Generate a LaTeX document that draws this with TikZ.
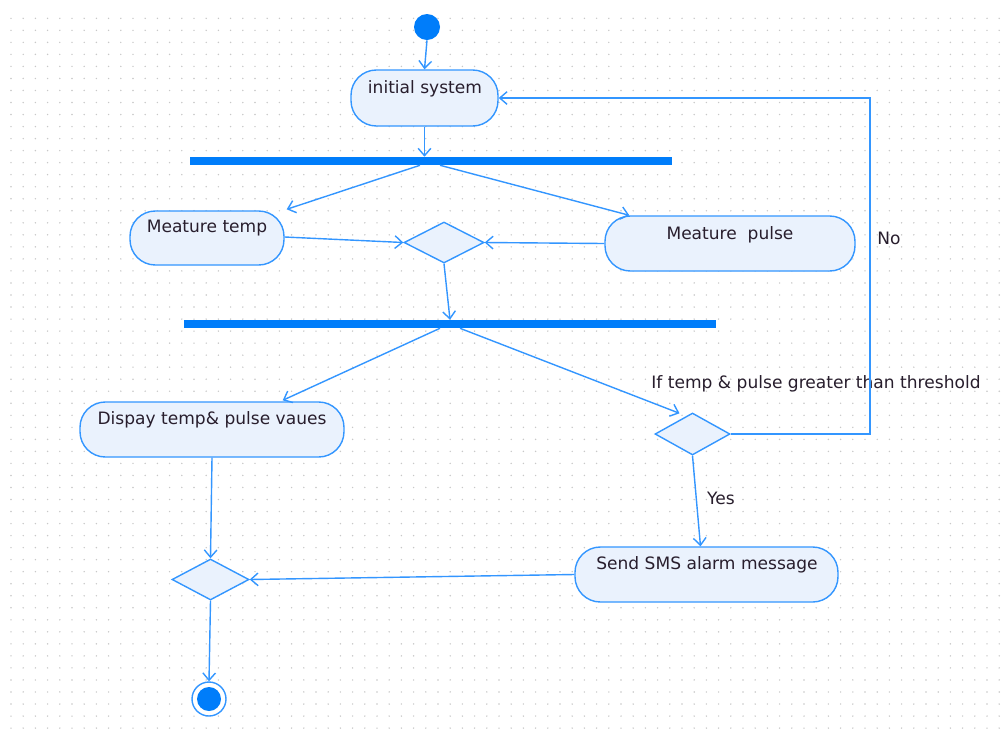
\documentclass[tikz,border=0pt]{standalone}
\usepackage{fontspec}
\setmainfont{DejaVu Sans}
\usetikzlibrary{shapes.geometric,arrows.meta}
\definecolor{uline}{RGB}{51,150,255}
\definecolor{ufill}{RGB}{234,242,253}
\definecolor{ubar}{RGB}{0,125,250}
\definecolor{utext}{RGB}{40,30,45}
\definecolor{udot}{RGB}{200,200,200}
\begin{document}
\begin{tikzpicture}[x=0.75pt,y=-0.75pt,
  activity/.style={draw=uline, fill=ufill, line width=1.05pt, rectangle, rounded corners=19pt, inner sep=0pt},
  decision/.style={draw=uline, fill=ufill, line width=1.05pt, diamond, inner sep=0pt},
  forkbar/.style={fill=ubar, draw=none, rectangle, inner sep=0pt, minimum height=6pt},
  txt/.style={text=utext, font=\fontsize{12.8}{15}\selectfont, inner sep=0pt},
  conn/.style={draw=uline, line width=1.05pt, -{Straight Barb[length=5.5pt,width=9.5pt]}}
]
\useasboundingbox (0,0) rectangle (1003,733);
\fill[white] (0,0) rectangle (1003,733);
% dotted grid
\foreach \i in {0,...,81}{
  \foreach \j in {0,...,59}{
    \fill[udot] (11+\i*12.2, 18.3+\j*12.03) circle[radius=0.6pt];
  }
}
% nodes
\node[circle, fill=ubar, minimum size=19.5pt, inner sep=0pt] (start) at (427,27) {};
\node[activity, minimum width=110.25pt, minimum height=42pt] (init) at (424.5,98) {};
\node[txt] at (425,89) {initial system};
\node[forkbar, minimum width=361.5pt] (bar1) at (431,161) {};
\node[activity, minimum width=115.5pt, minimum height=40.5pt] (mtemp) at (207,238) {};
\node[txt] at (207,228) {Meature temp};
\node[activity, minimum width=187.5pt, minimum height=41.25pt] (mpulse) at (730,243.5) {};
\node[txt] at (730,235) {Meature~ pulse};
\node[decision, minimum width=60pt, minimum height=30.75pt] (dia1) at (444,242.5) {};
\node[forkbar, minimum width=399pt] (bar2) at (450,324) {};
\node[activity, minimum width=198pt, minimum height=41.25pt] (disp) at (212,429.5) {};
\node[txt] at (212,420) {Dispay temp\& pulse vaues};
\node[decision, minimum width=56.25pt, minimum height=31.5pt] (dia2) at (692.5,434) {};
\node[txt] (cond) at (816,384) {If temp \& pulse greater than threshold};
\node[activity, minimum width=197.25pt, minimum height=41.25pt] (sms) at (706.5,574.5) {};
\node[txt] at (707,565) {Send SMS alarm message};
\node[decision, minimum width=57.75pt, minimum height=30.75pt] (dia3) at (210.5,579.5) {};
\node[circle, draw=uline, line width=1.05pt, fill=white, minimum size=25.5pt, inner sep=0pt] (end) at (209,699) {};
\fill[ubar] (end.center) circle[radius=9pt];
\node[txt] (no) at (889,238) {No};
\node[txt] (yes) at (721,498) {Yes};
\coordinate (turn) at (870,436);
% connectors
\draw[conn] (start.south) -- (init.north);
\draw[conn] (init.south) -- (init.south |- bar1.north);
\draw[conn] ([xshift=-8.25pt]bar1.south) -- ([xshift=1.5pt,yshift=0.75pt]mtemp.north east);
\draw[conn] ([xshift=6.75pt]bar1.south) -- ([xshift=18.75pt]mpulse.north west);
\draw[conn] ([yshift=0.75pt]mtemp.east) -- (dia1.west);
\draw[conn] (mpulse.west) -- (dia1.east);
\draw[conn] (dia1.south) -- (bar2.north);
\draw[conn] ([xshift=-7.5pt]bar2.south) -- ([xshift=-46.5pt,yshift=0.75pt]disp.north east);
\draw[conn] ([xshift=7.5pt]bar2.south) -- ([xshift=-9.75pt,yshift=-0.75pt]dia2.north);
\draw[conn] (dia2.east) -- (dia2.east -| turn) -- (turn |- init.east) -- (init.east);
\draw[conn] (dia2.south) -- ([xshift=-4.5pt]sms.north);
\draw[conn] (sms.west) -- (dia3.east);
\draw[conn] (disp.south) -- (dia3.north);
\draw[conn] (dia3.south) -- (end.north);
\end{tikzpicture}
\end{document}
